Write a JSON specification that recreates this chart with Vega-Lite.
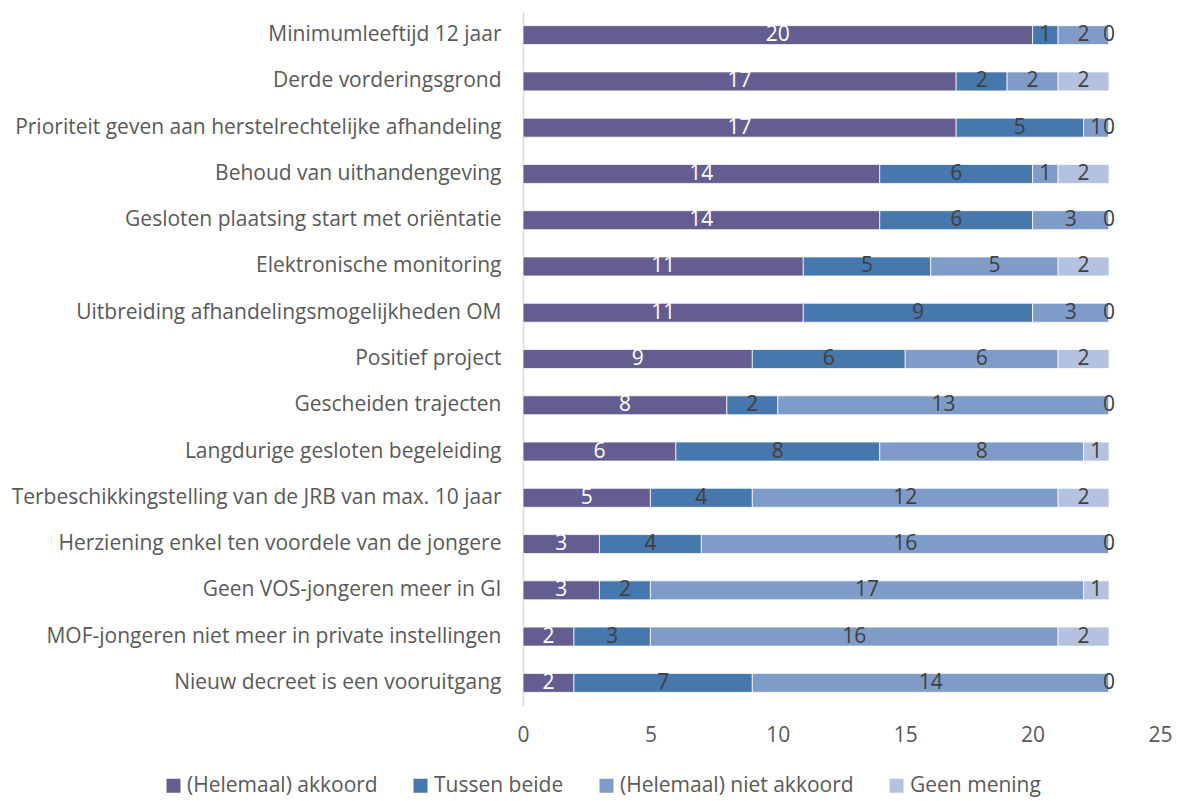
{
  "$schema": "https://vega.github.io/schema/vega-lite/v6.json",
  "autosize": "none",
  "width": 637,
  "height": 694,
  "padding": {"left": 523, "top": 12, "right": 20, "bottom": 95},
  "background": "white",
  "config": {
    "font": "Open Sans",
    "view": {"stroke": null}
  },
  "data": {
    "values": [
      {"item": "Minimumleeftijd 12 jaar", "response": "(Helemaal) akkoord", "k": 1, "value": 20},
      {"item": "Minimumleeftijd 12 jaar", "response": "Tussen beide", "k": 2, "value": 1},
      {"item": "Minimumleeftijd 12 jaar", "response": "(Helemaal) niet akkoord", "k": 3, "value": 2},
      {"item": "Minimumleeftijd 12 jaar", "response": "Geen mening", "k": 4, "value": 0},
      {"item": "Derde vorderingsgrond", "response": "(Helemaal) akkoord", "k": 1, "value": 17},
      {"item": "Derde vorderingsgrond", "response": "Tussen beide", "k": 2, "value": 2},
      {"item": "Derde vorderingsgrond", "response": "(Helemaal) niet akkoord", "k": 3, "value": 2},
      {"item": "Derde vorderingsgrond", "response": "Geen mening", "k": 4, "value": 2},
      {"item": "Prioriteit geven aan herstelrechtelijke afhandeling", "response": "(Helemaal) akkoord", "k": 1, "value": 17},
      {"item": "Prioriteit geven aan herstelrechtelijke afhandeling", "response": "Tussen beide", "k": 2, "value": 5},
      {"item": "Prioriteit geven aan herstelrechtelijke afhandeling", "response": "(Helemaal) niet akkoord", "k": 3, "value": 1},
      {"item": "Prioriteit geven aan herstelrechtelijke afhandeling", "response": "Geen mening", "k": 4, "value": 0},
      {"item": "Behoud van uithandengeving", "response": "(Helemaal) akkoord", "k": 1, "value": 14},
      {"item": "Behoud van uithandengeving", "response": "Tussen beide", "k": 2, "value": 6},
      {"item": "Behoud van uithandengeving", "response": "(Helemaal) niet akkoord", "k": 3, "value": 1},
      {"item": "Behoud van uithandengeving", "response": "Geen mening", "k": 4, "value": 2},
      {"item": "Gesloten plaatsing start met oriëntatie", "response": "(Helemaal) akkoord", "k": 1, "value": 14},
      {"item": "Gesloten plaatsing start met oriëntatie", "response": "Tussen beide", "k": 2, "value": 6},
      {"item": "Gesloten plaatsing start met oriëntatie", "response": "(Helemaal) niet akkoord", "k": 3, "value": 3},
      {"item": "Gesloten plaatsing start met oriëntatie", "response": "Geen mening", "k": 4, "value": 0},
      {"item": "Elektronische monitoring", "response": "(Helemaal) akkoord", "k": 1, "value": 11},
      {"item": "Elektronische monitoring", "response": "Tussen beide", "k": 2, "value": 5},
      {"item": "Elektronische monitoring", "response": "(Helemaal) niet akkoord", "k": 3, "value": 5},
      {"item": "Elektronische monitoring", "response": "Geen mening", "k": 4, "value": 2},
      {"item": "Uitbreiding afhandelingsmogelijkheden OM", "response": "(Helemaal) akkoord", "k": 1, "value": 11},
      {"item": "Uitbreiding afhandelingsmogelijkheden OM", "response": "Tussen beide", "k": 2, "value": 9},
      {"item": "Uitbreiding afhandelingsmogelijkheden OM", "response": "(Helemaal) niet akkoord", "k": 3, "value": 3},
      {"item": "Uitbreiding afhandelingsmogelijkheden OM", "response": "Geen mening", "k": 4, "value": 0},
      {"item": "Positief project", "response": "(Helemaal) akkoord", "k": 1, "value": 9},
      {"item": "Positief project", "response": "Tussen beide", "k": 2, "value": 6},
      {"item": "Positief project", "response": "(Helemaal) niet akkoord", "k": 3, "value": 6},
      {"item": "Positief project", "response": "Geen mening", "k": 4, "value": 2},
      {"item": "Gescheiden trajecten", "response": "(Helemaal) akkoord", "k": 1, "value": 8},
      {"item": "Gescheiden trajecten", "response": "Tussen beide", "k": 2, "value": 2},
      {"item": "Gescheiden trajecten", "response": "(Helemaal) niet akkoord", "k": 3, "value": 13},
      {"item": "Gescheiden trajecten", "response": "Geen mening", "k": 4, "value": 0},
      {"item": "Langdurige gesloten begeleiding", "response": "(Helemaal) akkoord", "k": 1, "value": 6},
      {"item": "Langdurige gesloten begeleiding", "response": "Tussen beide", "k": 2, "value": 8},
      {"item": "Langdurige gesloten begeleiding", "response": "(Helemaal) niet akkoord", "k": 3, "value": 8},
      {"item": "Langdurige gesloten begeleiding", "response": "Geen mening", "k": 4, "value": 1},
      {"item": "Terbeschikkingstelling van de JRB van max. 10 jaar", "response": "(Helemaal) akkoord", "k": 1, "value": 5},
      {"item": "Terbeschikkingstelling van de JRB van max. 10 jaar", "response": "Tussen beide", "k": 2, "value": 4},
      {"item": "Terbeschikkingstelling van de JRB van max. 10 jaar", "response": "(Helemaal) niet akkoord", "k": 3, "value": 12},
      {"item": "Terbeschikkingstelling van de JRB van max. 10 jaar", "response": "Geen mening", "k": 4, "value": 2},
      {"item": "Herziening enkel ten voordele van de jongere", "response": "(Helemaal) akkoord", "k": 1, "value": 3},
      {"item": "Herziening enkel ten voordele van de jongere", "response": "Tussen beide", "k": 2, "value": 4},
      {"item": "Herziening enkel ten voordele van de jongere", "response": "(Helemaal) niet akkoord", "k": 3, "value": 16},
      {"item": "Herziening enkel ten voordele van de jongere", "response": "Geen mening", "k": 4, "value": 0},
      {"item": "Geen VOS-jongeren meer in GI", "response": "(Helemaal) akkoord", "k": 1, "value": 3},
      {"item": "Geen VOS-jongeren meer in GI", "response": "Tussen beide", "k": 2, "value": 2},
      {"item": "Geen VOS-jongeren meer in GI", "response": "(Helemaal) niet akkoord", "k": 3, "value": 17},
      {"item": "Geen VOS-jongeren meer in GI", "response": "Geen mening", "k": 4, "value": 1},
      {"item": "MOF-jongeren niet meer in private instellingen", "response": "(Helemaal) akkoord", "k": 1, "value": 2},
      {"item": "MOF-jongeren niet meer in private instellingen", "response": "Tussen beide", "k": 2, "value": 3},
      {"item": "MOF-jongeren niet meer in private instellingen", "response": "(Helemaal) niet akkoord", "k": 3, "value": 16},
      {"item": "MOF-jongeren niet meer in private instellingen", "response": "Geen mening", "k": 4, "value": 2},
      {"item": "Nieuw decreet is een vooruitgang", "response": "(Helemaal) akkoord", "k": 1, "value": 2},
      {"item": "Nieuw decreet is een vooruitgang", "response": "Tussen beide", "k": 2, "value": 7},
      {"item": "Nieuw decreet is een vooruitgang", "response": "(Helemaal) niet akkoord", "k": 3, "value": 14},
      {"item": "Nieuw decreet is een vooruitgang", "response": "Geen mening", "k": 4, "value": 0}
    ]
  },
  "transform": [
    {"stack": "value", "groupby": ["item"], "sort": [{"field": "k"}], "as": ["v0", "v1"]},
    {"calculate": "(datum.v0 + datum.v1) / 2", "as": "mid"}
  ],
  "encoding": {
    "y": {
      "field": "item", "type": "nominal", "sort": null, "title": null,
      "scale": {"paddingInner": 0.59, "paddingOuter": 0.295},
      "axis": {"domainColor": "#d9d9d9", "domainWidth": 1.5, "ticks": false, "labelPadding": 22, "labelFontSize": 21, "labelColor": "#595959", "labelLimit": 600}
    }
  },
  "layer": [
    {
      "mark": {"type": "bar", "stroke": "white", "strokeWidth": 0.75},
      "encoding": {
        "x": {
          "field": "v0", "type": "quantitative", "title": null,
          "scale": {"domain": [0, 25], "nice": false, "zero": false},
          "axis": {"values": [0, 5, 10, 15, 20, 25], "grid": false, "domain": false, "ticks": false, "labelPadding": 18, "labelFontSize": 21, "labelColor": "#595959", "labelFlush": false}
        },
        "x2": {"field": "v1"},
        "color": {
          "field": "response", "type": "nominal", "title": null,
          "scale": {
            "domain": ["(Helemaal) akkoord", "Tussen beide", "(Helemaal) niet akkoord", "Geen mening"],
            "range": ["#635e8f", "#4677ad", "#7f9cc9", "#b4c2df"]
          },
          "legend": {
            "orient": "none", "direction": "horizontal", "legendX": -360, "legendY": 763,
            "symbolType": "square", "symbolSize": 196, "symbolStrokeWidth": 0,
            "labelFontSize": 21, "labelColor": "#595959", "columnPadding": 32, "labelOffset": 3, "labelLimit": 400
          }
        }
      }
    },
    {
      "mark": {"type": "text", "fontSize": 21, "baseline": "middle", "align": "center"},
      "encoding": {
        "x": {"field": "mid", "type": "quantitative"},
        "text": {"field": "value", "type": "quantitative"},
        "color": {
          "condition": {"test": "datum.k === 1", "value": "white"},
          "value": "#404040"
        }
      }
    }
  ]
}
